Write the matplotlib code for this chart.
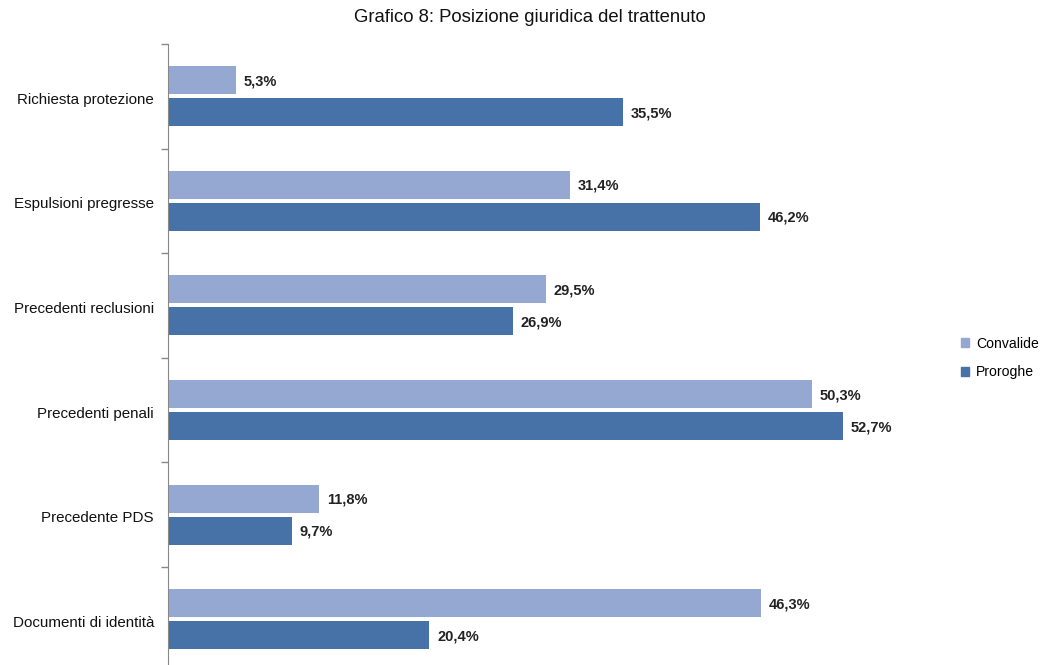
import matplotlib
matplotlib.use("Agg")
import matplotlib.pyplot as plt
import numpy as np
from matplotlib.patches import Patch

plt.rcParams['font.family'] = ['Liberation Sans', 'DejaVu Sans']

# categories from top to bottom
categorie = ["Richiesta protezione", "Espulsioni pregresse", "Precedenti reclusioni",
             "Precedenti penali", "Precedente PDS", "Documenti di identità"]
convalide = [5.3, 31.4, 29.5, 50.3, 11.8, 46.3]
proroghe = [35.5, 46.2, 26.9, 52.7, 9.7, 20.4]

col_conv = "#94a8d1"
col_pror = "#4672a8"

fig = plt.figure(figsize=(10.4, 6.65), dpi=100)
ax = fig.add_axes([168/1040, -0.0099, 740/1040, 0.9438])

y = np.arange(len(categorie))
h = 0.268
off = 0.153
ax.barh(y - off, convalide, height=h, color=col_conv)
ax.barh(y + off, proroghe, height=h, color=col_pror)

for yi, v in zip(y, convalide):
    ax.text(v + 0.6, yi - off + 0.01, f"{v:.1f}%".replace(".", ","), va="center", ha="left",
            fontsize=10.5, fontweight="bold", color="#222222")
for yi, v in zip(y, proroghe):
    ax.text(v + 0.6, yi + off + 0.01, f"{v:.1f}%".replace(".", ","), va="center", ha="left",
            fontsize=10.5, fontweight="bold", color="#222222")

ax.set_ylim(len(categorie) - 0.5, -0.5)
ax.set_xlim(0, 740/12.81)
ax.set_yticks(y + 0.02)
ax.set_yticklabels(categorie, fontsize=10.9, color="#111111")
ax.tick_params(axis="y", which="major", length=0, pad=10)
ax.set_yticks(np.arange(len(categorie) + 1) - 0.5, minor=True)
ax.tick_params(axis="y", which="minor", length=5, color="#888888", width=1)
ax.set_xticks([])
for s in ["top", "right", "bottom"]:
    ax.spines[s].set_visible(False)
ax.spines["left"].set_color("#888888")

fig.text(530/1040, 1 - 18/665, "Grafico 8: Posizione giuridica del trattenuto",
         ha="center", va="center", fontsize=13.3, color="#111111")

handles = [Patch(color=col_conv, label="Convalide"), Patch(color=col_pror, label="Proroghe")]
fig.legend(handles=handles, loc="center left", bbox_to_anchor=(948/1040, 1 - 358/665),
           frameon=False, fontsize=10.1, handlelength=0.6, handleheight=0.55,
           handletextpad=0.5, labelspacing=1.05)

fig.savefig("out.png", dpi=100)
